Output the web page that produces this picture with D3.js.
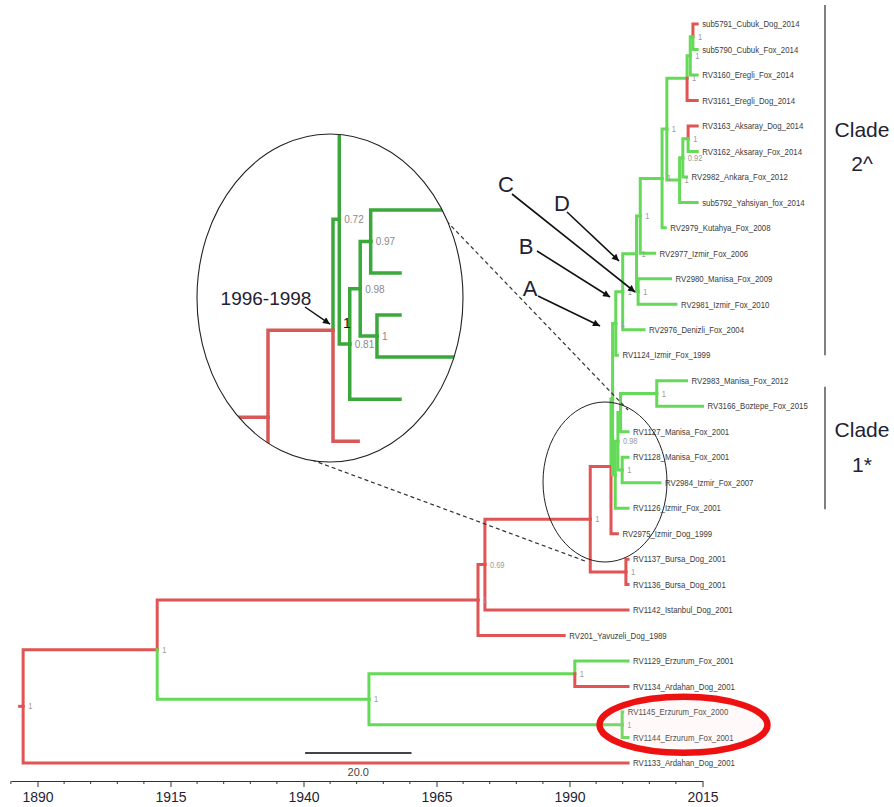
<!DOCTYPE html>
<html><head><meta charset="utf-8">
<script src="https://cdn.jsdelivr.net/npm/d3@7"></script>
<style>body{margin:0;background:#fff}svg{display:block}</style>
</head><body>
<svg id="chart" width="894" height="807"></svg>
<script>
// ---------------- DATA ----------------
const leafNames = [
"sub5791_Cubuk_Dog_2014","sub5790_Cubuk_Fox_2014","RV3160_Eregli_Fox_2014","RV3161_Eregli_Dog_2014",
"RV3163_Aksaray_Dog_2014","RV3162_Aksaray_Fox_2014","RV2982_Ankara_Fox_2012","sub5792_Yahsiyan_fox_2014",
"RV2979_Kutahya_Fox_2008","RV2977_Izmir_Fox_2006","RV2980_Manisa_Fox_2009","RV2981_Izmir_Fox_2010",
"RV2976_Denizli_Fox_2004","RV1124_Izmir_Fox_1999","RV2983_Manisa_Fox_2012","RV3166_Boztepe_Fox_2015",
"RV1127_Manisa_Fox_2001","RV1128_Manisa_Fox_2001","RV2984_Izmir_Fox_2007","RV1126_Izmir_Fox_2001",
"RV2975_Izmir_Dog_1999","RV1137_Bursa_Dog_2001","RV1136_Bursa_Dog_2001","RV1142_Istanbul_Dog_2001",
"RV201_Yavuzeli_Dog_1989","RV1129_Erzurum_Fox_2001","RV1134_Ardahan_Dog_2001","RV1145_Erzurum_Fox_2000",
"RV1144_Erzurum_Fox_2001","RV1133_Ardahan_Dog_2001"];
const leafYears = [2014,2014,2014,2014,2014,2014,2012,2014,2008,2006,2009,2010,2004,1999,2012,2015,
  2001,2001,2007,2001,1999,2001,2001,2001,1989,2001,2001,2000,2001,2001];
const leafHosts = ["Dog","Fox","Fox","Dog","Dog","Fox","Fox","Fox","Fox","Fox","Fox","Fox","Fox","Fox","Fox","Fox",
  "Fox","Fox","Fox","Fox","Dog","Dog","Dog","Dog","Dog","Fox","Dog","Fox","Fox","Dog"];

// internal nodes: children are node ids (string) or leaf indices (number)
const nodeIds = ["root","n1","n2","n4","n5","n8","n9","n072","nA","nD","nZ","nC","nY","nKut","nUp",
  "nEreg","n3160","nCub","nYah","n092","nAks","n081","n098","n097","n2983","n1b","n3","n6","n7"];
const nodeChildren = [["n1",29],["n2","n3"],["n4",24],["n5",23],["n9","n8"],[21,22],["n072",20],["nA","n081"],
  ["nD",13],["nZ",12],["nY","nC"],[10,11],["nKut",9],["nUp",8],["nEreg","nYah"],["n3160",3],["nCub",2],[0,1],
  ["n092",7],["nAks",6],[4,5],["n098",19],["n097","n1b"],["n2983",16],[14,15],[17,18],["n6","n7"],[25,26],[27,28]];
const nodeYears = [1887.3,1912.5,1972.8,1974.1,1993.9,2000.6,1997.8,1998.1,1998.7,2000.0,2002.6,2002.9,2003.3,
  2007.4,2008.3,2012.1,2012.7,2013.2,2010.7,2011.3,2012.3,1998.6,1999.1,1999.6,2006.4,1999.9,1952.3,1991.0,1999.9];
const nodeSupport = ["1","1","1","0.69","1","1","1","0.72","1","1","1","1","1","1","1","1","1","1","1","0.92","1",
  "0.81","0.98","0.97","1","1","1","1","1"];
const nodeHosts = ["Dog","Dog","Dog","Dog","Dog","Dog","Dog","Fox","Fox","Fox","Fox","Fox","Fox","Fox","Fox",
  "Fox","Fox","Fox","Fox","Fox","Fox","Fox","Fox","Fox","Fox","Fox","Fox","Fox","Fox"];
const hiddenMainLabels = ["n9","n072","n081","n097"];
const insetLabelNodes = ["n072","n081","n098","n097","n1b"];

const axisMajorTicks = [1890,1915,1940,1965,1990,2015];
const axisMinorTicks = [1885,1895,1900,1905,1910,1920,1925,1930,1935,1945,1950,1955,1960,1970,1975,1980,1985,1995,2000,2005,2010];
const scaleBarValue = 20;
const scaleBarStart = 1940.3;
const cladeNames = [["Clade","2^"],["Clade","1*"]];
const cladeLeafRanges = [[0,13],[14,19]];
const nodeLetters = ["A","B","C","D"];
const insetPeriod = "1996-1998";

// ---------------- BUILD TREE ----------------
const byId = {};
leafNames.forEach((n,i)=>{ byId["L"+i] = {id:"L"+i, name:n, year:leafYears[i], host:leafHosts[i], leafIndex:i}; });
nodeIds.forEach((id,i)=>{ byId[id] = {id, year:nodeYears[i], support:nodeSupport[i], host:nodeHosts[i],
  childIds:nodeChildren[i].map(c=> typeof c==="number" ? "L"+c : c)}; });
function build(id){ const d = byId[id]; if(d.childIds) d.children = d.childIds.map(build); return d; }
const root = d3.hierarchy(build("root"));

const x = d3.scaleLinear().domain([1890,2015]).range([37.5,702.5]);
const y = d3.scaleLinear().domain([0, leafNames.length-1]).range([24,763]);
root.eachAfter(n=>{ n.py = n.children ? d3.mean(n.children, c=>c.py) : y(n.data.leafIndex); n.px = x(n.data.year); });
const nodeMap = {}; root.each(n=> nodeMap[n.data.id] = n);

const hostColor = {Dog:"#e05454", Fox:"#64da58"};
const insetColor = {Dog:"#d85858", Fox:"#3ba83b"};

const svg = d3.select("#chart");
const defs = svg.append("defs");
defs.append("marker").attr("id","arr").attr("viewBox","0 0 10 10").attr("refX",10).attr("refY",5)
  .attr("markerWidth",9).attr("markerHeight",7).attr("markerUnits","userSpaceOnUse").attr("orient","auto")
  .append("path").attr("d","M0,0L10,5L0,10z").attr("fill","#111");

// ---------------- MAIN TREE ----------------
const gTree = svg.append("g");
const links = root.descendants().filter(n=>n.parent);
gTree.selectAll("path.link").data(links).join("path")
  .attr("d", n=>`M${n.parent.px},${n.parent.py}V${n.py}H${n.px}`)
  .attr("fill","none").attr("stroke", n=>hostColor[n.data.host]).attr("stroke-width",3)
  .attr("stroke-linecap","square").attr("stroke-linejoin","miter");
gTree.append("path").attr("d",`M${root.px-5},${root.py}H${root.px}`)
  .attr("stroke",hostColor[root.data.host]).attr("stroke-width",3);

// support labels
gTree.selectAll("text.sup").data(root.descendants().filter(n=>n.children && !hiddenMainLabels.includes(n.data.id)))
  .join("text").attr("transform", n=>`translate(${n.px+5},${n.py+3}) scale(0.88,1)`)
  .attr("font-family","Liberation Sans, Arial, sans-serif").attr("font-size",8.5).attr("fill","#9a9a9a")
  .text(n=>n.data.support);

// leaf labels
gTree.selectAll("text.leaf").data(root.leaves()).join("text")
  .attr("transform", n=>`translate(${n.px+5},${n.py+3.2}) scale(0.87,1)`)
  .attr("font-family","Liberation Sans, Arial, sans-serif").attr("font-size",9).attr("fill","#3c3c3c")
  .text(n=>n.data.name);

// ---------------- AXIS ----------------
const xa = x.copy().domain([1885,2015]).range([x(1885), x(2015)]);
const axisY = 781;
const gAxis = svg.append("g").attr("transform",`translate(0,${axisY})`);
gAxis.call(d3.axisBottom(xa).tickValues(axisMajorTicks).tickFormat(d3.format("d")).tickSize(6).tickSizeOuter(0).tickPadding(5));
gAxis.select(".domain").attr("stroke","#333");
gAxis.selectAll(".tick line").attr("stroke","#333");
gAxis.selectAll(".tick text").attr("font-family","Liberation Sans, Arial, sans-serif").attr("font-size",14).attr("fill","#1f1f35");
gAxis.selectAll("line.minor").data(axisMinorTicks).join("line").attr("class","minor")
  .attr("x1",d=>xa(d)).attr("x2",d=>xa(d)).attr("y1",0).attr("y2",3).attr("stroke","#333");

// scale bar
const sbY = 753;
svg.append("line").attr("x1",x(scaleBarStart)).attr("x2",x(scaleBarStart+scaleBarValue)).attr("y1",sbY).attr("y2",sbY)
  .attr("stroke","#444").attr("stroke-width",2);
svg.append("text").attr("x",(x(scaleBarStart)+x(scaleBarStart+scaleBarValue))/2).attr("y",sbY+23)
  .attr("text-anchor","middle").attr("font-family","Liberation Sans, Arial, sans-serif").attr("font-size",11).attr("fill","#444")
  .text(d3.format(".1f")(scaleBarValue));

// ---------------- CLADE BARS ----------------
const cladeBarX = 825;
cladeLeafRanges.forEach((r,i)=>{
  const y0 = i===0 ? y(r[0])-19 : y(r[0])+6, y1 = i===0 ? y(r[1]) : y(r[1])+1;
  svg.append("line").attr("x1",cladeBarX).attr("x2",cladeBarX).attr("y1",y0).attr("y2",y1)
    .attr("stroke","#555").attr("stroke-width",1.5);
  const cy = (y0+y1)/2 - (i===0?34:0);
  const t = svg.append("text").attr("text-anchor","middle").attr("font-family","Liberation Sans, Arial, sans-serif")
    .attr("font-size",21).attr("fill","#222233");
  t.append("tspan").attr("x",862).attr("y", i===0 ? 137 : 437).text(cladeNames[i][0]);
  t.append("tspan").attr("x",862).attr("y", i===0 ? 171 : 472).text(cladeNames[i][1]);
});

// ---------------- LETTER ANNOTATIONS ----------------
const letterPos = {A:[530,296],B:[526,254],C:[506,192],D:[562,211]};
const letterArrows = {A:[[538,296],[600,326]],B:[[537,251],[610,297]],C:[[512,194],[635,292]],D:[[567,212],[619,261]]};
nodeLetters.forEach(L=>{
  svg.append("text").attr("x",letterPos[L][0]).attr("y",letterPos[L][1]).attr("text-anchor","middle")
    .attr("font-family","Liberation Sans, Arial, sans-serif").attr("font-size",22).attr("fill","#222233").text(L);
  const a = letterArrows[L];
  svg.append("line").attr("x1",a[0][0]).attr("y1",a[0][1]).attr("x2",a[1][0]).attr("y2",a[1][1])
    .attr("stroke","#111").attr("stroke-width",1.6).attr("marker-end","url(#arr)");
});

// ---------------- SMALL ELLIPSE + DASHED CONNECTORS ----------------
svg.append("ellipse").attr("cx",605).attr("cy",482).attr("rx",62).attr("ry",80)
  .attr("fill","none").attr("stroke","#222").attr("stroke-width",1);
svg.append("line").attr("x1",432).attr("y1",206).attr("x2",628).attr("y2",410)
  .attr("stroke","#333").attr("stroke-width",1.2).attr("stroke-dasharray","4,3");
svg.append("line").attr("x1",312).attr("y1",460).attr("x2",585).attr("y2",561)
  .attr("stroke","#333").attr("stroke-width",1.2).attr("stroke-dasharray","4,3");

// ---------------- INSET (magnified view) ----------------
const inCx=330, inCy=298, inRx=133, inRy=164;
defs.append("clipPath").attr("id","insetClip").append("ellipse")
  .attr("cx",inCx).attr("cy",inCy).attr("rx",inRx).attr("ry",inRy);
const ix = d3.scaleLinear().domain([nodeMap.n5.data.year, nodeMap.n9.data.year, 2001]).range([268,333,400]);
const iy = d3.scaleLinear().domain([458.7,558.7]).range([317.5,482.5]);
svg.append("ellipse").attr("cx",inCx).attr("cy",inCy).attr("rx",inRx).attr("ry",inRy).attr("fill","#fff");
const gIn = svg.append("g").attr("clip-path","url(#insetClip)");
const nA = nodeMap.nA;
const insetNodes = nodeMap.n5.descendants().filter(n=> n===nA || !n.ancestors().includes(nA));
gIn.selectAll("path").data(insetNodes).join("path")
  .attr("d", n=>`M${ix(n.parent.data.year)},${iy(n.parent.py)}V${iy(n.py)}H${ix(n.data.year)}`)
  .attr("fill","none").attr("stroke",n=>insetColor[n.data.host]).attr("stroke-width",3.5)
  .attr("stroke-linecap","square");
svg.append("ellipse").attr("cx",inCx).attr("cy",inCy).attr("rx",inRx).attr("ry",inRy)
  .attr("fill","none").attr("stroke","#222").attr("stroke-width",1.1);
svg.selectAll("text.inlab").data(insetLabelNodes.map(id=>nodeMap[id])).join("text")
  .attr("x",n=>ix(n.data.year)+5).attr("y",n=>iy(n.py)+4)
  .attr("font-family","Liberation Sans, Arial, sans-serif").attr("font-size",10).attr("fill","#8a8a8a")
  .text(n=>n.data.support);
const n9i = [ix(nodeMap.n9.data.year), iy(nodeMap.n9.py)];
svg.append("text").attr("x",n9i[0]+10).attr("y",n9i[1]-2).attr("font-family","Liberation Sans, Arial, sans-serif")
  .attr("font-size",14).attr("fill","#111").text(nodeMap.n9.data.support);
svg.append("text").attr("x",266).attr("y",305).attr("text-anchor","middle")
  .attr("font-family","Liberation Sans, Arial, sans-serif").attr("font-size",19).attr("fill","#222233").text(insetPeriod);
svg.append("line").attr("x1",305).attr("y1",307).attr("x2",n9i[0]-3).attr("y2",n9i[1]-6)
  .attr("stroke","#111").attr("stroke-width",1.5).attr("marker-end","url(#arr)");

// ---------------- RED HIGHLIGHT ELLIPSE ----------------
const hl = [nodeMap.L27, nodeMap.L28];
svg.append("ellipse").attr("cx",683.5).attr("cy",(hl[0].py+hl[1].py)/2).attr("rx",84).attr("ry",28)
  .attr("fill","rgba(255,215,205,0.12)").attr("stroke","#ee1111").attr("stroke-width",6.5);
</script>
</body></html>
